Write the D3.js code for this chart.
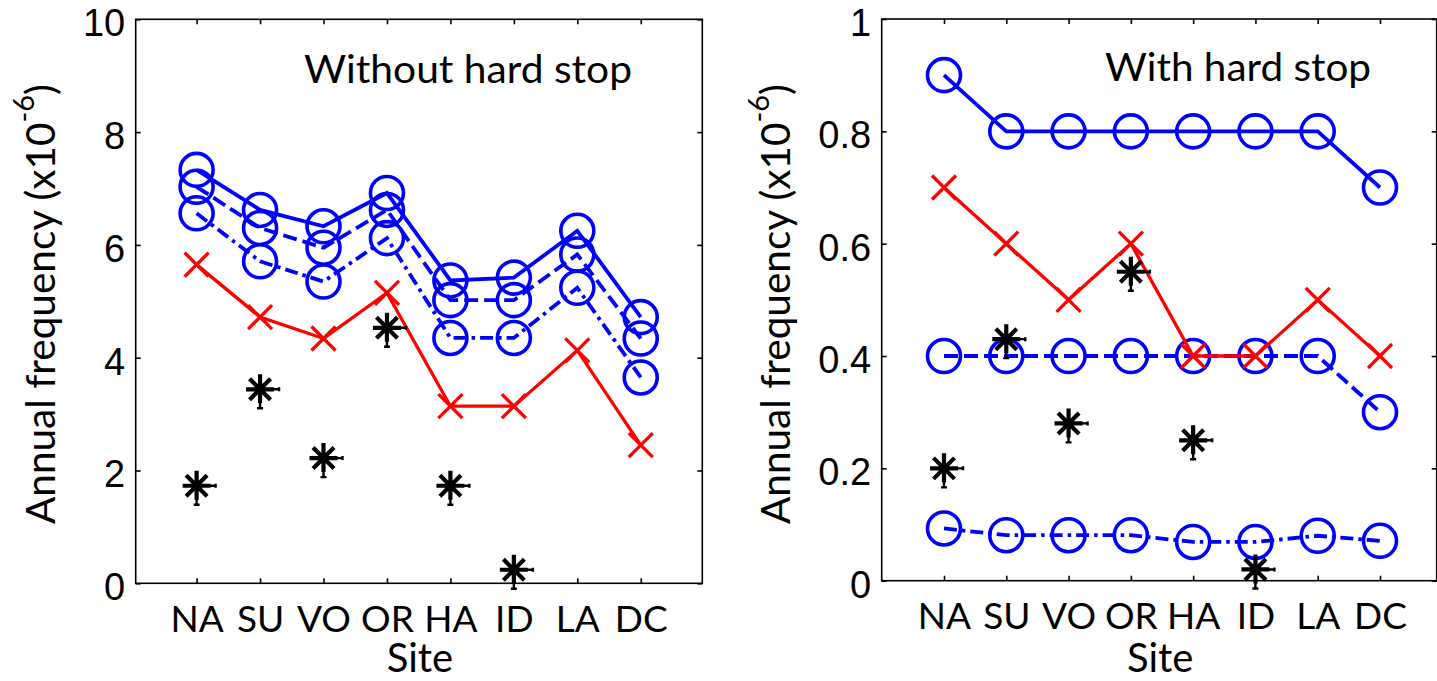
<!DOCTYPE html>
<html>
<head>
<meta charset="utf-8">
<script src="https://cdn.jsdelivr.net/npm/d3@7"></script>
<style>
  html, body { margin: 0; padding: 0; background: #ffffff; }
  svg { display: block; }
</style>
</head>
<body>
<script>
// ---------------- DATA ----------------
const sites = ["NA", "SU", "VO", "OR", "HA", "ID", "LA", "DC"];

// Left panel: without hard stop (x10^-6)
const noStopSolid   = [7.33, 6.62, 6.33, 6.92, 5.37, 5.42, 6.25, 4.72];
const noStopDashed  = [7.03, 6.30, 5.95, 6.62, 5.02, 5.02, 5.83, 4.34];
const noStopDashDot = [6.56, 5.71, 5.35, 6.12, 4.35, 4.35, 5.24, 3.65];
const noStopRed     = [5.65, 4.72, 4.34, 5.15, 3.14, 3.14, 4.13, 2.45];
const noStopStar    = [1.73, 3.44, 2.22, 4.53, 1.73, 0.24, null, null];

// Right panel: with hard stop (x10^-6)
const withStopSolid   = [0.90, 0.80, 0.80, 0.80, 0.80, 0.80, 0.80, 0.70];
const withStopDashed  = [0.40, 0.40, 0.40, 0.40, 0.40, 0.40, 0.40, 0.30];
const withStopDashDot = [0.093, 0.081, 0.081, 0.081, 0.069, 0.069, 0.080, 0.071];
const withStopRed     = [0.70, 0.60, 0.50, 0.60, 0.40, 0.40, 0.50, 0.40];
const withStopStar    = [0.20, 0.43, 0.28, 0.55, 0.25, 0.02, null, null];

const yTicksLeft  = [0, 2, 4, 6, 8, 10];
const yTicksRight = [0, 0.2, 0.4, 0.6, 0.8, 1];
const yTickLabelsRight = ["0", "0.2", "0.4", "0.6", "0.8", "1"];

const titleLeft  = "Without hard stop";
const titleRight = "With hard stop";
const xLabel = "Site";

// ---------------- DRAWING ----------------
const W = 1437, H = 681;
const svg = d3.select("body").append("svg").attr("width", W).attr("height", H);

const BLUE = "#0000ff", RED = "#ff0000";
const txtFont = "Lato, 'Open Sans', sans-serif";
const numFont = "'Liberation Sans', Arial, sans-serif";

function panel(cfg) {
  const x = d3.scaleLinear().domain(cfg.xDomain).range([cfg.left, cfg.right]);
  const y = d3.scaleLinear().domain(cfg.yDomain).range([cfg.bottom, cfg.top]);
  const g = svg.append("g");
  const idx = d3.range(1, sites.length + 1);

  // axes (ticks inward)
  const axB = g.append("g").attr("transform", `translate(0,${cfg.bottom})`)
    .call(d3.axisBottom(x).tickValues(idx).tickFormat(i => sites[i - 1]).tickSizeInner(-5).tickSizeOuter(0).tickPadding(0));
  const axT = g.append("g").attr("transform", `translate(0,${cfg.top})`)
    .call(d3.axisTop(x).tickValues(idx).tickFormat("").tickSizeInner(-5).tickSizeOuter(0));
  const axL = g.append("g").attr("transform", `translate(${cfg.left},0)`)
    .call(d3.axisLeft(y).tickValues(cfg.yTicks).tickFormat((d, i) => cfg.yLabels[i]).tickSizeInner(-5).tickSizeOuter(0).tickPadding(0));
  const axR = g.append("g").attr("transform", `translate(${cfg.right},0)`)
    .call(d3.axisRight(y).tickValues(cfg.yTicks).tickFormat("").tickSizeInner(-5).tickSizeOuter(0));
  [axB, axT, axL, axR].forEach(a => {
    a.select(".domain").remove();
    a.selectAll(".tick line").attr("stroke", "#000").attr("stroke-width", 1.6);
  });
  axB.selectAll(".tick text").attr("y", 48.5).attr("dy", 0)
    .attr("font-family", txtFont).attr("font-size", 37).attr("fill", "#000");
  axL.selectAll(".tick text").attr("x", -10.5).attr("dy", "0.43em")
    .attr("font-family", numFont).attr("font-size", 38).attr("fill", "#000");

  // box
  g.append("rect").attr("x", cfg.left).attr("y", cfg.top)
    .attr("width", cfg.right - cfg.left).attr("height", cfg.bottom - cfg.top)
    .attr("fill", "none").attr("stroke", "#000").attr("stroke-width", 1.6);

  // data layer
  const d = g.append("g");
  const line = d3.line().defined(v => v != null).x((v, i) => x(i + 1)).y(v => y(v));

  function circleSeries(vals, dash) {
    d.append("path").datum(vals).attr("d", line).attr("fill", "none")
      .attr("stroke", BLUE).attr("stroke-width", 3.8).attr("stroke-dasharray", dash);
    d.selectAll(null).data(vals).enter().append("circle")
      .attr("cx", (v, i) => x(i + 1)).attr("cy", v => y(v)).attr("r", 16.5)
      .attr("fill", "none").attr("stroke", BLUE).attr("stroke-width", 3.6);
  }
  circleSeries(cfg.solid, null);
  circleSeries(cfg.dashed, "14,6");
  circleSeries(cfg.dashdot, "13,5,3.5,5");

  // red x series
  d.append("path").datum(cfg.red).attr("d", line).attr("fill", "none")
    .attr("stroke", RED).attr("stroke-width", 3.3);
  const xs = d.selectAll(null).data(cfg.red).enter().append("g")
    .attr("transform", (v, i) => `translate(${x(i + 1)},${y(v)})`);
  xs.append("path").attr("d", "M-12,-12L12,12M-12,12L12,-12")
    .attr("stroke", RED).attr("stroke-width", 3.3).attr("fill", "none");

  // asterisk series (markers only)
  const st = d.selectAll(null).data(cfg.star.map((v, i) => ({ v, i })).filter(o => o.v != null))
    .enter().append("g")
    .attr("transform", o => `translate(${x(o.i + 1)},${y(o.v)})`);
  st.append("path")
    .attr("d", "M-14,0L14,0M0,-15L0,14M-10.5,-10.5L10.5,10.5M-10.5,10.5L10.5,-10.5")
    .attr("stroke", "#000").attr("stroke-width", 4.2).attr("fill", "none");
  st.append("path")
    .attr("d", "M0,0L19,0M0,0L0,19M-3,19L3,19M19,-2L19,2")
    .attr("stroke", "#000").attr("stroke-width", 2.4).attr("fill", "none");

  // title text
  g.append("text").attr("x", cfg.titleX).attr("y", cfg.titleY)
    .attr("font-family", txtFont).attr("font-size", 39).attr("fill", "#000")
    .attr("textLength", cfg.titleLen).attr("lengthAdjust", "spacingAndGlyphs")
    .text(cfg.title);

  // x label
  g.append("text").attr("x", (cfg.left + cfg.right) / 2 + 1).attr("y", 672)
    .attr("text-anchor", "middle").attr("font-family", txtFont).attr("font-size", 40)
    .attr("fill", "#000").text(xLabel);

  // y label
  const yl = g.append("text")
    .attr("transform", `translate(${cfg.ylabX},524) rotate(-90)`)
    .attr("font-family", txtFont).attr("font-size", 40.5).attr("fill", "#000");
  yl.append("tspan").text("Annual frequency (x10");
  yl.append("tspan").attr("dy", -21).attr("font-size", 29).text("-6");
  yl.append("tspan").attr("dy", 21).text(")");
}

panel({
  left: 135.7, right: 702.3, top: 19.3, bottom: 583.3,
  xDomain: [0.04, 8.97], yDomain: [0, 10],
  yTicks: yTicksLeft, yLabels: yTicksLeft.map(String),
  solid: noStopSolid, dashed: noStopDashed, dashdot: noStopDashDot,
  red: noStopRed, star: noStopStar,
  title: titleLeft, titleX: 304, titleY: 83, titleLen: 328, ylabX: 55
});

panel({
  left: 881.7, right: 1436.7, top: 19, bottom: 580.7,
  xDomain: [0, 8.91], yDomain: [0, 1],
  yTicks: yTicksRight, yLabels: yTickLabelsRight,
  solid: withStopSolid, dashed: withStopDashed, dashdot: withStopDashDot,
  red: withStopRed, star: withStopStar,
  title: titleRight, titleX: 1105, titleY: 81, titleLen: 266, ylabX: 790
});
</script>
</body>
</html>
